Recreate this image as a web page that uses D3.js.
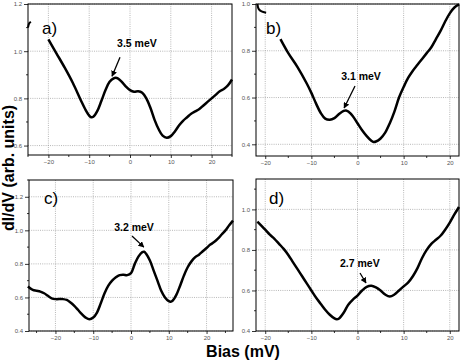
<!DOCTYPE html>
<html>
<head>
<meta charset="utf-8">
<script src="https://cdn.jsdelivr.net/npm/d3@7"></script>
<style>
  body { margin: 0; background: #fff; }
  svg { display: block; font-family: "Liberation Sans", Arial, sans-serif; }
  .tick-label { font-size: 6px; fill: #555; }
  .grid { stroke: #888; stroke-width: 0.6; stroke-dasharray: 1,1.2; }
</style>
</head>
<body>
<div id="chart"></div>
<script>
// panel a
const biasA = [-20, -18, -16, -14, -12, -11, -10, -9.5, -9, -8, -7, -6, -5, -4, -3.5, -3, -2, -1, 0, 1, 2, 3, 4, 5, 6, 7, 8, 9, 10, 11, 12, 13, 14, 15, 16, 17, 18, 19, 20, 21, 22, 23, 24, 25];
const didvA = [1.05, 0.99, 0.93, 0.865, 0.79, 0.755, 0.727, 0.72, 0.722, 0.747, 0.79, 0.835, 0.87, 0.885, 0.887, 0.885, 0.87, 0.85, 0.835, 0.828, 0.83, 0.824, 0.8, 0.76, 0.71, 0.67, 0.642, 0.633, 0.64, 0.66, 0.685, 0.705, 0.72, 0.735, 0.745, 0.755, 0.77, 0.785, 0.8, 0.815, 0.83, 0.84, 0.855, 0.88];
const stubBiasA = [-25, -24.7, -24.3];
const stubDidvA = [1.1, 1.118, 1.125];

// panel b
const biasB = [-16.7, -15, -13, -11, -10, -9, -8, -7, -6, -5, -4, -3, -2.5, -2, -1, 0, 1, 2, 3, 3.5, 4, 5, 6, 7, 8, 9, 10, 11, 12, 13, 14, 15, 16, 17, 18, 19, 20, 21, 22];
const didvB = [0.85, 0.79, 0.73, 0.66, 0.62, 0.575, 0.535, 0.51, 0.505, 0.512, 0.53, 0.543, 0.545, 0.54, 0.52, 0.49, 0.46, 0.435, 0.415, 0.41, 0.412, 0.425, 0.45, 0.49, 0.54, 0.6, 0.645, 0.685, 0.715, 0.74, 0.765, 0.79, 0.815, 0.85, 0.885, 0.925, 0.96, 0.985, 0.998];
const stubBiasB = [-21.7, -21.4, -20.8, -19.8];
const stubDidvB = [1.0, 0.978, 0.968, 0.963];

// panel c
const biasC = [-27.3, -26, -25, -24, -23, -22, -21, -20, -18, -17, -16, -15, -14, -13, -12, -11, -10, -9, -8, -7, -6, -5, -4, -3, -2, -1, 0, 1, 2, 3, 3.5, 4, 5, 6, 7, 8, 9, 10, 10.5, 11, 12, 13, 14, 15, 16, 17, 18, 19, 20, 21, 22, 23, 24, 25, 26, 27];
const didvC = [0.665, 0.645, 0.64, 0.635, 0.625, 0.61, 0.595, 0.59, 0.59, 0.585, 0.57, 0.55, 0.525, 0.5, 0.48, 0.47, 0.48, 0.51, 0.565, 0.625, 0.67, 0.7, 0.72, 0.733, 0.735, 0.733, 0.745, 0.8, 0.845, 0.87, 0.872, 0.86, 0.82, 0.76, 0.7, 0.64, 0.6, 0.578, 0.575, 0.58, 0.615, 0.67, 0.73, 0.78, 0.815, 0.84, 0.855, 0.875, 0.895, 0.915, 0.93, 0.95, 0.975, 1.0, 1.03, 1.058];

// panel d
const biasD = [-21.7, -20, -19, -18, -17, -16, -15, -14, -13, -12, -11, -10, -9, -8, -7, -6, -5, -4.5, -4, -3, -2, -1, 0, 1, 2, 3, 4, 5, 6, 7, 8, 9, 10, 11, 12, 13, 14, 15, 16, 17, 18, 19, 20, 21, 22];
const didvD = [0.94, 0.9, 0.875, 0.855, 0.83, 0.805, 0.775, 0.74, 0.705, 0.67, 0.635, 0.6, 0.565, 0.535, 0.505, 0.48, 0.462, 0.458, 0.462, 0.49, 0.53, 0.555, 0.575, 0.6, 0.618, 0.623, 0.615, 0.6, 0.58, 0.57, 0.58, 0.6, 0.62, 0.64, 0.67, 0.71, 0.76, 0.8, 0.83, 0.85, 0.87, 0.9, 0.935, 0.975, 1.012];

const panelLetters = ['a)', 'b)', 'c)', 'd)'];
const gapLabels = ['3.5 meV', '3.1 meV', '3.2 meV', '2.7 meV'];
// label anchor and arrow (start -> tip) in data units
const gapText = [[1.7, 1.017], [0.76, 0.675], [0.8, 0.996], [0.5, 0.716]];
const gapArrow = [[[-2.45, 0.974], [-4.4, 0.894]], [[-0.54, 0.649], [-2.9, 0.555]], [[0.26, 0.966], [3.4, 0.9]], [[0.54, 0.686], [1.84, 0.637]]];

const xDomains = [[-25, 25], [-22, 22], [-27, 27], [-22, 22]];
const yDomains = [[0.56, 1.2], [0.35, 1.0], [0.4, 1.3], [0.4, 1.15]];
const xTicks = [-20, -10, 0, 10, 20];
const yTicks = [[0.6, 0.8, 1.0, 1.2], [0.4, 0.6, 0.8, 1.0], [0.4, 0.6, 0.8, 1.0, 1.2], [0.4, 0.6, 0.8, 1.0]];

const w = 463;
const h = 361;

// pixel boxes for the four panels
const boxes = [
  {left: 28, right: 232, top: 4, bottom: 155},
  {left: 256, right: 459, top: 4, bottom: 156},
  {left: 29, right: 233, top: 180, bottom: 331},
  {left: 256, right: 459, top: 179, bottom: 331}
];
const letterPos = [[14, 30], [10, 30], [15, 24], [13, 25]];

const series = [
  {bias: biasA, didv: didvA, stubBias: stubBiasA, stubDidv: stubDidvA},
  {bias: biasB, didv: didvB, stubBias: stubBiasB, stubDidv: stubDidvB},
  {bias: biasC, didv: didvC},
  {bias: biasD, didv: didvD}
];

const svg = d3.select('#chart').
  append('svg').
  attr('width', w).
  attr('height', h);

svg.append('defs').append('marker').
  attr('id', 'arrowhead').
  attr('viewBox', '0 0 10 10').
  attr('refX', 9).
  attr('refY', 5).
  attr('markerWidth', 6).
  attr('markerHeight', 6).
  attr('markerUnits', 'userSpaceOnUse').
  attr('orient', 'auto').
  append('path').
  attr('d', 'M0,0 L10,5 L0,10 z').
  attr('fill', '#000');

boxes.forEach(function (b, i) {
  const xScale = d3.scaleLinear().domain(xDomains[i]).range([b.left, b.right]);
  const yScale = d3.scaleLinear().domain(yDomains[i]).range([b.bottom, b.top]);
  const g = svg.append('g').attr('class', 'panel');

  // grid
  g.selectAll('.vgrid').data(xTicks).enter().append('line').
    attr('class', 'grid').
    attr('x1', d => xScale(d)).attr('x2', d => xScale(d)).
    attr('y1', b.top).attr('y2', b.bottom);
  g.selectAll('.hgrid').data(yTicks[i]).enter().append('line').
    attr('class', 'grid').
    attr('x1', b.left).attr('x2', b.right).
    attr('y1', d => yScale(d)).attr('y2', d => yScale(d));

  // axes
  const xMinor = d3.range(Math.ceil(xDomains[i][0] / 5) * 5, xDomains[i][1] + 0.01, 5).filter(v => v % 10 !== 0);
  const yMinor = d3.range(0.3, 1.31, 0.2).map(v => +v.toFixed(1)).filter(v => v >= yDomains[i][0] && v <= yDomains[i][1]);

  const xAxis = g.append('g').
    attr('transform', 'translate(0,' + b.bottom + ')').
    call(d3.axisBottom(xScale).tickValues(xTicks).tickSize(3).tickPadding(2).tickFormat(d3.format('d')));
  xAxis.append('g').selectAll('line').data(xMinor).enter().append('line').
    attr('x1', d => xScale(d)).attr('x2', d => xScale(d)).
    attr('y1', 0).attr('y2', 2).attr('stroke', '#000');

  const yAxis = g.append('g').
    attr('transform', 'translate(' + b.left + ',0)').
    call(d3.axisLeft(yScale).tickValues(yTicks[i]).tickSize(4).tickPadding(2).tickFormat(d3.format('.1f')));
  yAxis.append('g').selectAll('line').data(yMinor).enter().append('line').
    attr('x1', -2).attr('x2', 0).
    attr('y1', d => yScale(d)).attr('y2', d => yScale(d)).attr('stroke', '#000');

  [xAxis, yAxis].forEach(function (ax) {
    ax.select('.domain').remove();
    ax.selectAll('text').attr('class', 'tick-label').attr('font-family', null).attr('font-size', null);
    ax.selectAll('line').attr('stroke-width', 0.8);
  });

  // frame
  g.append('rect').
    attr('x', b.left).attr('y', b.top).
    attr('width', b.right - b.left).attr('height', b.bottom - b.top).
    attr('fill', 'none').attr('stroke', '#000').attr('stroke-width', 1);

  // curve
  const line = d3.line().
    x(d => xScale(d[0])).
    y(d => yScale(d[1])).
    curve(d3.curveCatmullRom.alpha(0.5));

  const s = series[i];
  g.append('path').
    datum(s.bias.map((v, k) => [v, s.didv[k]])).
    attr('d', line).
    attr('fill', 'none').
    attr('stroke', '#000').
    attr('stroke-width', 2.5).
    attr('stroke-linejoin', 'round');

  if (s.stubBias) {
    g.append('path').
      datum(s.stubBias.map((v, k) => [v, s.stubDidv[k]])).
      attr('d', line).
      attr('fill', 'none').
      attr('stroke', '#000').
      attr('stroke-width', 2);
  }

  // panel letter
  g.append('text').
    attr('x', b.left + letterPos[i][0]).
    attr('y', b.top + letterPos[i][1]).
    attr('font-size', 17).
    text(panelLetters[i]);

  // gap annotation
  g.append('text').
    attr('x', xScale(gapText[i][0])).
    attr('y', yScale(gapText[i][1])).
    attr('text-anchor', 'middle').
    attr('font-size', 10.5).
    attr('font-weight', 'bold').
    text(gapLabels[i]);

  g.append('line').
    attr('x1', xScale(gapArrow[i][0][0])).attr('y1', yScale(gapArrow[i][0][1])).
    attr('x2', xScale(gapArrow[i][1][0])).attr('y2', yScale(gapArrow[i][1][1])).
    attr('stroke', '#000').
    attr('stroke-width', 1.3).
    attr('marker-end', 'url(#arrowhead)');
});

svg.append('text').
  attr('transform', 'translate(14,168) rotate(-90)').
  attr('text-anchor', 'middle').
  attr('font-size', 16).
  attr('font-weight', 'bold').
  text('dI/dV (arb. units)');

svg.append('text').
  attr('x', 243).
  attr('y', 357).
  attr('text-anchor', 'middle').
  attr('font-size', 16).
  attr('font-weight', 'bold').
  text('Bias (mV)');
</script>
</body>
</html>
